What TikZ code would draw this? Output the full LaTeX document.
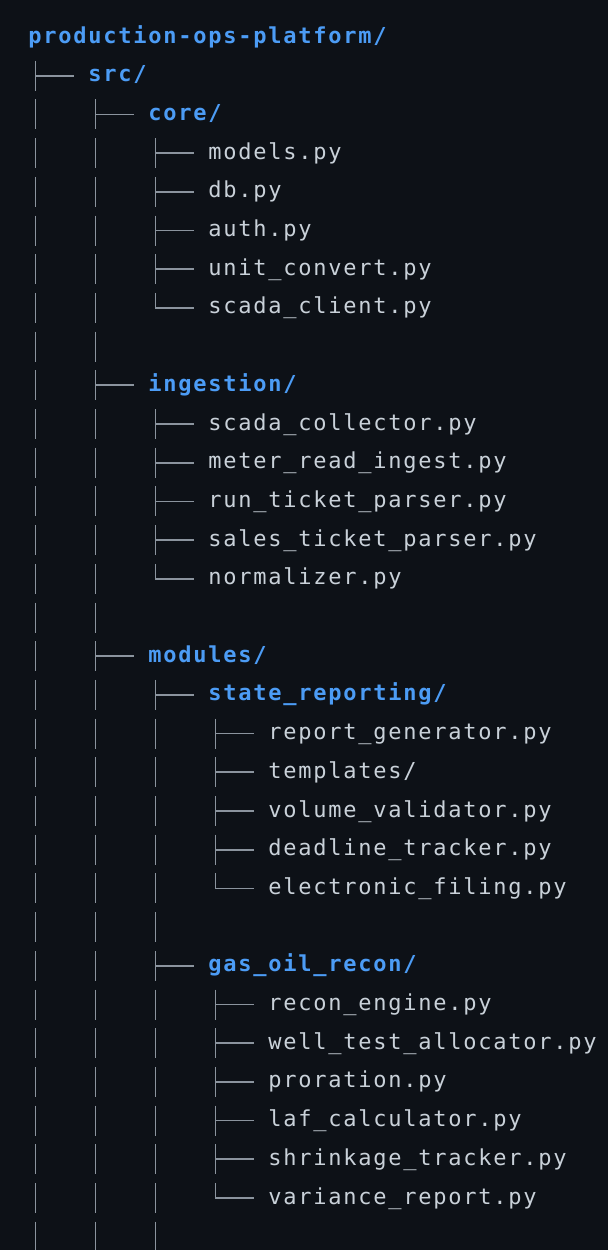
\documentclass[tikz,border=0pt]{standalone}
\usepackage{fontspec}
\newfontfamily\treemono[LetterSpace=8]{DejaVu Sans Mono}
\definecolor{bg}{HTML}{0D1117}
\definecolor{dirblue}{HTML}{4C9CF5}
\definecolor{filegrey}{HTML}{C9D1D9}
\definecolor{linegrey}{HTML}{8B949E}
\newcommand\treePipe[2]{\draw[treeline] ({35.5+60*#1},{37+38.7*#2-15}) -- ({35.5+60*#1},{37+38.7*#2+15});}
\newcommand\treeTee[2]{\treePipe{#1}{#2}\draw[treeline] ({35.5+60*#1},{37+38.7*#2}) -- ({74+60*#1},{37+38.7*#2});}
\newcommand\treeElbow[2]{\draw[treeline] ({35.5+60*#1},{37+38.7*#2-15}) -- ({35.5+60*#1},{37+38.7*#2}) -- ({74+60*#1},{37+38.7*#2});}
\newcommand\rowy[1]{{37+38.7*#1+6}}
\begin{document}
\begin{tikzpicture}[x=0.5pt,y=-0.5pt,
  dirname/.style={anchor=base west, inner sep=0pt, text=dirblue, font=\treemono\bfseries\fontsize{11pt}{13pt}\selectfont},
  filename/.style={anchor=base west, inner sep=0pt, text=filegrey, font=\treemono\fontsize{11pt}{13pt}\selectfont},
  treeline/.style={draw=linegrey, line width=0.85pt}]
\fill[bg] (0,0) rectangle (608,1250);
\useasboundingbox (0,0) rectangle (608,1250);
\clip (0,0) rectangle (608,1250);
% level 0
\treeTee{0}{1}
\foreach \r in {2,...,31} {\treePipe{0}{\r}}
% level 1
\foreach \r in {2,9,16} {\treeTee{1}{\r}}
\foreach \r in {3,...,8,10,11,12,13,14,15,17,18,...,31} {\treePipe{1}{\r}}
% level 2
\foreach \r in {3,4,5,6,10,11,12,13,17,24} {\treeTee{2}{\r}}
\foreach \r in {7,14} {\treeElbow{2}{\r}}
\foreach \r in {18,...,23,25,26,...,31} {\treePipe{2}{\r}}
% level 3
\foreach \r in {18,19,20,21,25,26,27,28,29} {\treeTee{3}{\r}}
\foreach \r in {22,30} {\treeElbow{3}{\r}}
% texts
\node[dirname] (root) at (28,\rowy{0}) {production-ops-platform/};
\node[dirname] (src) at (88,\rowy{1}) {src/};
\node[dirname] (core) at (148,\rowy{2}) {core/};
\node[filename] (models) at (208,\rowy{3}) {models.py};
\node[filename] (db) at (208,\rowy{4}) {db.py};
\node[filename] (auth) at (208,\rowy{5}) {auth.py};
\node[filename] (unitconv) at (208,\rowy{6}) {unit\_convert.py};
\node[filename] (scadaclient) at (208,\rowy{7}) {scada\_client.py};
\node[dirname] (ingestion) at (148,\rowy{9}) {ingestion/};
\node[filename] (scadacoll) at (208,\rowy{10}) {scada\_collector.py};
\node[filename] (meter) at (208,\rowy{11}) {meter\_read\_ingest.py};
\node[filename] (runticket) at (208,\rowy{12}) {run\_ticket\_parser.py};
\node[filename] (salesticket) at (208,\rowy{13}) {sales\_ticket\_parser.py};
\node[filename] (normalizer) at (208,\rowy{14}) {normalizer.py};
\node[dirname] (modules) at (148,\rowy{16}) {modules/};
\node[dirname] (staterep) at (208,\rowy{17}) {state\_reporting/};
\node[filename] (reportgen) at (268,\rowy{18}) {report\_generator.py};
\node[filename] (templates) at (268,\rowy{19}) {templates/};
\node[filename] (volval) at (268,\rowy{20}) {volume\_validator.py};
\node[filename] (deadline) at (268,\rowy{21}) {deadline\_tracker.py};
\node[filename] (efiling) at (268,\rowy{22}) {electronic\_filing.py};
\node[dirname] (gasoil) at (208,\rowy{24}) {gas\_oil\_recon/};
\node[filename] (recon) at (268,\rowy{25}) {recon\_engine.py};
\node[filename] (welltest) at (268,\rowy{26}) {well\_test\_allocator.py};
\node[filename] (proration) at (268,\rowy{27}) {proration.py};
\node[filename] (laf) at (268,\rowy{28}) {laf\_calculator.py};
\node[filename] (shrink) at (268,\rowy{29}) {shrinkage\_tracker.py};
\node[filename] (variance) at (268,\rowy{30}) {variance\_report.py};
\end{tikzpicture}
\end{document}
